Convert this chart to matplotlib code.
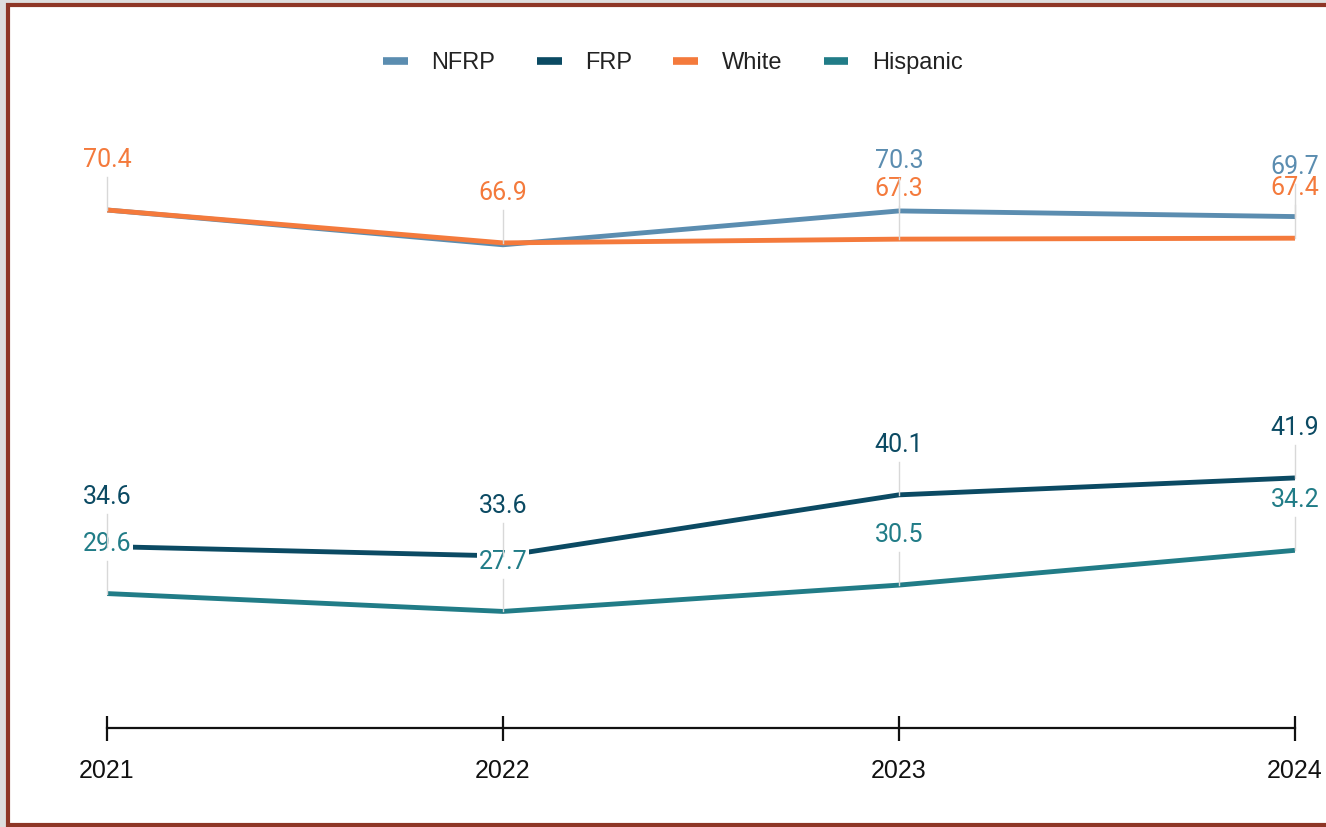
import matplotlib
matplotlib.use('Agg')
import matplotlib.pyplot as plt
from matplotlib.patches import Rectangle

years = [2021, 2022, 2023, 2024]
nfrp = [70.4, 66.7, 70.3, 69.7]
frp = [34.6, 33.6, 40.1, 41.9]
white = [70.4, 66.9, 67.3, 67.4]
hispanic = [29.6, 27.7, 30.5, 34.2]

# which points get a value label (NFRP is hidden under White on the left)
nfrp_show = [False, False, True, True]
frp_show = [True, True, True, True]
white_show = [True, True, True, True]
hispanic_show = [True, True, True, True]

names = ['NFRP', 'FRP', 'White', 'Hispanic']
colors = ['#5b8db0', '#0b4a63', '#f47a3c', '#217c87']

series = [nfrp, frp, white, hispanic]
shows = [nfrp_show, frp_show, white_show, hispanic_show]

W, H = 1326, 827
fig = plt.figure(figsize=(W / 100, H / 100), dpi=100)
fig.patch.set_facecolor('#dedede')

# framed white card
fig.patches.append(Rectangle((7.5 / W, 2 / H), (W + 20) / W, (H - 6.5) / H,
                             transform=fig.transFigure, facecolor='white',
                             edgecolor='#8e3626', linewidth=3.0, zorder=-5))

ax = fig.add_axes([107 / W, (H - 728) / H, (1295 - 107) / W, (728 - 100) / H])
ax.set_facecolor('none')
ax.set_xlim(2021, 2024)
ax.set_ylim(15.3, 82.1)

for s in ['top', 'left', 'right']:
    ax.spines[s].set_visible(False)
ax.spines['bottom'].set_linewidth(1.6)
ax.spines['bottom'].set_color('#111111')
ax.set_yticks([])
ax.set_xticks(years)
ax.set_xticklabels([str(y) for y in years], fontsize=18, family='Liberation Sans', color='#111111')
ax.tick_params(axis='x', direction='inout', length=18, width=1.6, color='#111111', pad=13)

for vals, c, n, z in zip(series, colors, names, [2, 2.1, 2.2, 2.3]):
    ax.plot(years, vals, color=c, lw=3.5, solid_capstyle='butt', zorder=z, label=n)

# value labels sit above each point with a faint leader down to it
lab_off = 5.3
lead_len = 3.5
for vals, show, c in zip(series, shows, colors):
    for x, v, s in zip(years, vals, show):
        if not s:
            continue
        ax.text(x, v + lab_off, f'{v:.1f}', ha='center', va='center', color=c,
                fontsize=18, family='Roboto', zorder=5, clip_on=False,
                bbox=dict(boxstyle='square,pad=0.06', facecolor='white', edgecolor='none'))
        ax.plot([x, x], [v, v + lead_len], color='#d8d8d8', lw=1, zorder=6, clip_on=False)

leg = fig.legend(handles=[plt.Line2D([], [], color=c, lw=5.5, solid_capstyle='butt') for c in colors],
                 labels=names, loc='center', bbox_to_anchor=(673 / W, (H - 63) / H), ncol=4,
                 frameon=False, prop={'family': 'Liberation Sans', 'size': 17},
                 handlelength=1.05, handletextpad=1.0, columnspacing=1.75)
for t in leg.get_texts():
    t.set_color('#222222')

fig.savefig('out.png', dpi=100, facecolor=fig.get_facecolor())
